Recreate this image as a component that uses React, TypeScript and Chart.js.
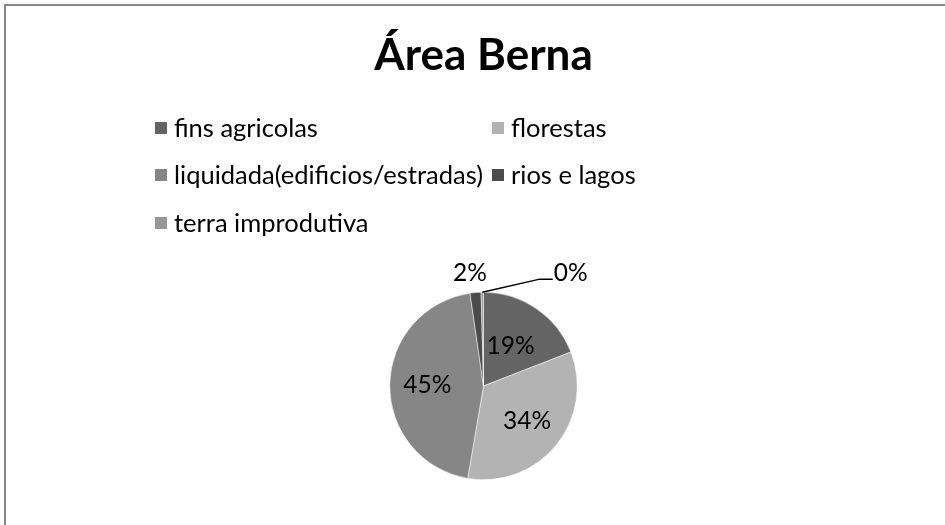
import React, { useEffect, useRef } from "react";
import { Chart, registerables } from "chart.js";

Chart.register(...registerables);

const TITLE = "Área Berna";
const categories = [
  "fins agricolas",
  "florestas",
  "liquidada(edificios/estradas)",
  "rios e lagos",
  "terra improdutiva",
];
const values = [19.1, 33.6, 45.0, 1.9, 0.4];
const colors = ["#646464", "#b3b3b3", "#868686", "#4b4b4b", "#979797"];

const FONT = "Lato, 'Open Sans', sans-serif";

const overlayPlugin = {
  id: "excelOverlay",
  afterDraw(chart: any) {
    const ctx = chart.ctx as CanvasRenderingContext2D;
    ctx.save();
    // title
    ctx.fillStyle = "#000";
    ctx.font = `bold 44px ${FONT}`;
    ctx.textAlign = "center";
    ctx.textBaseline = "middle";
    ctx.fillText(TITLE, 483.5, 56);

    // legend (two columns, Excel style)
    const labels: string[] = chart.data.labels;
    const bg: string[] = chart.data.datasets[0].backgroundColor;
    const colX = [155, 492];
    const rowY = [128, 175, 223];
    ctx.font = `25.5px ${FONT}`;
    ctx.textAlign = "left";
    labels.forEach((lab, i) => {
      const x = colX[i % 2];
      const y = rowY[Math.floor(i / 2)];
      ctx.fillStyle = bg[i];
      ctx.fillRect(x, y - 6, 12, 12);
      ctx.fillStyle = "#000";
      ctx.fillText(lab, x + 19, y + 1);
    });

    // data labels
    const meta = chart.getDatasetMeta(0);
    const data: number[] = chart.data.datasets[0].data;
    const total = data.reduce((a, b) => a + b, 0);
    ctx.font = `24.5px ${FONT}`;
    meta.data.forEach((arc: any, i: number) => {
      const { x, y, startAngle, endAngle, outerRadius } = arc.getProps(
        ["x", "y", "startAngle", "endAngle", "outerRadius"],
        true
      );
      const frac = data[i] / total;
      const txt = Math.round(frac * 100) + "%";
      const mid = (startAngle + endAngle) / 2;
      ctx.fillStyle = "#000";
      if (frac >= 0.05) {
        const r = outerRadius * (frac < 0.25 ? 0.51 : 0.6);
        ctx.textAlign = "center";
        ctx.fillText(txt, x + r * Math.cos(mid), y + r * Math.sin(mid));
      } else if (frac >= 0.01) {
        const r = outerRadius * 1.21;
        ctx.textAlign = "center";
        ctx.fillText(txt, x + r * Math.cos(mid) - 4, y + r * Math.sin(mid));
      } else {
        const sx = x + outerRadius * Math.cos(mid);
        const sy = y + outerRadius * Math.sin(mid);
        const ex = x + outerRadius * 0.6;
        const ey = y - outerRadius * 1.14;
        ctx.strokeStyle = "#000";
        ctx.lineWidth = 1.5;
        ctx.beginPath();
        ctx.moveTo(sx, sy);
        ctx.lineTo(ex, ey);
        ctx.lineTo(ex + 13, ey);
        ctx.stroke();
        ctx.textAlign = "left";
        ctx.fillText(txt, ex + 14, ey - 6);
      }
    });
    ctx.restore();
  },
};

export default function App() {
  const ref = useRef<HTMLCanvasElement | null>(null);
  useEffect(() => {
    if (!ref.current) return;
    const chart = new Chart(ref.current, {
      type: "pie",
      data: {
        labels: categories,
        datasets: [
          {
            data: values,
            backgroundColor: colors,
            borderColor: "#ffffff",
            borderWidth: 0.5,
          },
        ],
      },
      options: {
        responsive: false,
        animation: false,
        layout: { padding: { left: 389, right: 367, top: 292, bottom: 45 } },
        plugins: {
          legend: { display: false },
          title: { display: false },
          tooltip: { enabled: false },
        },
      },
      plugins: [overlayPlugin],
    });
    return () => chart.destroy();
  }, []);
  return (
    <div
      style={{
        position: "fixed",
        left: 0,
        top: 0,
        width: 945,
        height: 525,
        overflow: "hidden",
        background: "#fff",
      }}
    >
      <div
        style={{
          position: "absolute",
          left: 4,
          top: 4,
          width: 1000,
          height: 600,
          border: "2px solid #878787",
          boxSizing: "border-box",
        }}
      />
      <canvas
        ref={ref}
        width={945}
        height={525}
        style={{ position: "absolute", left: 0, top: 0, width: 945, height: 525 }}
      />
    </div>
  );
}
